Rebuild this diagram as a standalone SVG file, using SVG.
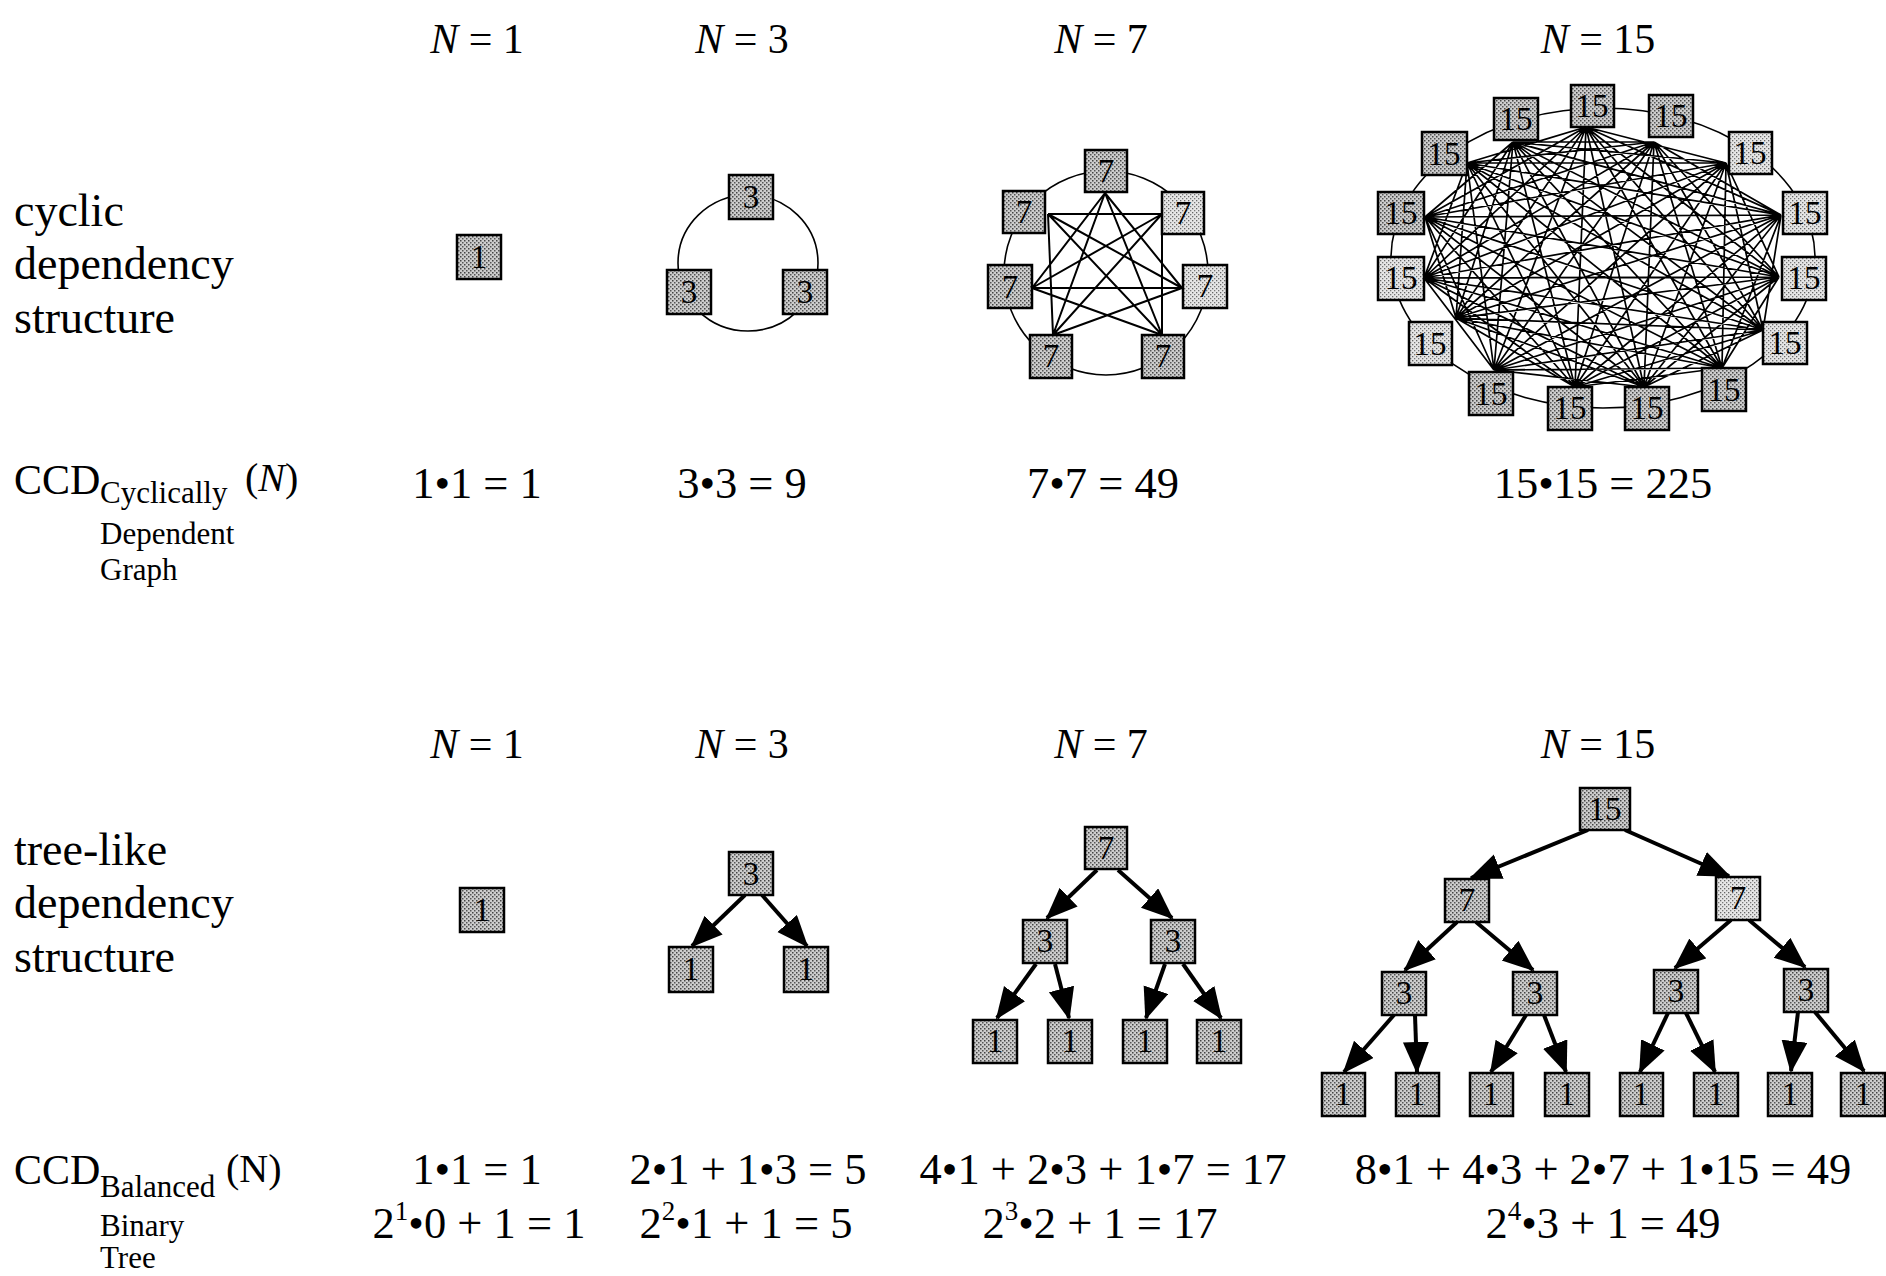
<svg xmlns="http://www.w3.org/2000/svg" width="1886" height="1276" viewBox="0 0 1886 1276">
<defs>
<pattern id="dk" width="4" height="4" patternUnits="userSpaceOnUse"><rect width="4" height="4" fill="#cdcdcd"/><rect width="1.5" height="1.5" fill="#444"/><rect x="2" y="2" width="1.5" height="1.5" fill="#555"/></pattern>
<pattern id="lt" width="4" height="4" patternUnits="userSpaceOnUse"><rect width="4" height="4" fill="#e6e6e6"/><rect width="1.3" height="1.3" fill="#666"/><rect x="2" y="2" width="1.3" height="1.3" fill="#777"/></pattern>
<marker id="ah" markerUnits="userSpaceOnUse" markerWidth="36" markerHeight="28" refX="30" refY="13" orient="auto"><path d="M0,0 L32,13 L0,26 z" fill="#000"/></marker>
<style>
text{font-family:"Liberation Serif","Times New Roman",serif;fill:#000}
.lab{font-size:46px}
.hd{font-size:42px;text-anchor:middle}
.eq{font-size:44.5px;text-anchor:middle}
.sub{font-size:31px}
.sup{font-size:27px}
.nd rect{fill:url(#dk);stroke:#000;stroke-width:2.5}
.nd.l rect{fill:url(#lt)}
.nd text{font-size:33px;text-anchor:middle}
.ring{fill:none;stroke:#000;stroke-width:1.6}
.ch7{fill:none;stroke:#000;stroke-width:2}
.ch15{fill:none;stroke:#000;stroke-width:1.7}
.arr{stroke:#000;stroke-width:4;fill:none;marker-end:url(#ah)}
</style>
</defs>
<rect width="1886" height="1276" fill="#fff"/>

<!-- headings -->
<g id="headings-top">
<text class="hd" x="477" y="53"><tspan font-style="italic">N</tspan> = 1</text>
<text class="hd" x="742" y="53"><tspan font-style="italic">N</tspan> = 3</text>
<text class="hd" x="1101" y="53"><tspan font-style="italic">N</tspan> = 7</text>
<text class="hd" x="1598" y="53"><tspan font-style="italic">N</tspan> = 15</text>
</g>
<g id="headings-bottom">
<text class="hd" x="477" y="758"><tspan font-style="italic">N</tspan> = 1</text>
<text class="hd" x="742" y="758"><tspan font-style="italic">N</tspan> = 3</text>
<text class="hd" x="1101" y="758"><tspan font-style="italic">N</tspan> = 7</text>
<text class="hd" x="1598" y="758"><tspan font-style="italic">N</tspan> = 15</text>
</g>

<g id="label-cyclic">
<text class="lab" x="14" y="226">cyclic</text>
<text class="lab" x="14" y="279">dependency</text>
<text class="lab" x="14" y="333">structure</text>
</g>
<g id="label-tree">
<text class="lab" x="14" y="865">tree-like</text>
<text class="lab" x="14" y="918">dependency</text>
<text class="lab" x="14" y="972">structure</text>
</g>

<g id="ccd-cyclic">
<text x="14" y="494" font-size="42">CCD</text>
<text class="sub" x="100" y="503">Cyclically</text>
<text x="245" y="491" font-size="40">(<tspan font-style="italic">N</tspan>)</text>
<text class="sub" x="100" y="544">Dependent</text>
<text class="sub" x="100" y="580">Graph</text>
</g>
<g id="ccd-cyclic-values">
<text class="eq" x="477" y="498">1•1 = 1</text>
<text class="eq" x="742" y="498">3•3 = 9</text>
<text class="eq" x="1103" y="498">7•7 = 49</text>
<text class="eq" x="1603" y="498">15•15 = 225</text>
</g>

<g id="ccd-balanced">
<text x="14" y="1184" font-size="42">CCD</text>
<text class="sub" x="100" y="1197">Balanced</text>
<text x="226" y="1182" font-size="40">(N)</text>
<text class="sub" x="100" y="1236">Binary</text>
<text class="sub" x="100" y="1268">Tree</text>
</g>
<g id="ccd-balanced-values">
<text class="eq" x="477" y="1184">1•1 = 1</text>
<text class="eq" x="748" y="1184">2•1 + 1•3 = 5</text>
<text class="eq" x="1103" y="1184">4•1 + 2•3 + 1•7 = 17</text>
<text class="eq" x="1603" y="1184">8•1 + 4•3 + 2•7 + 1•15 = 49</text>
<text class="eq" x="479" y="1238">2<tspan class="sup" dy="-18">1</tspan><tspan dy="18">•0 + 1 = 1</tspan></text>
<text class="eq" x="746" y="1238">2<tspan class="sup" dy="-18">2</tspan><tspan dy="18">•1 + 1 = 5</tspan></text>
<text class="eq" x="1100" y="1238">2<tspan class="sup" dy="-18">3</tspan><tspan dy="18">•2 + 1 = 17</tspan></text>
<text class="eq" x="1603" y="1238">2<tspan class="sup" dy="-18">4</tspan><tspan dy="18">•3 + 1 = 49</tspan></text>
</g>

<!-- connectors -->
<g id="connectors">
<ellipse class="ring" cx="748" cy="263" rx="70" ry="68"/>
<circle class="ring" cx="1106" cy="273" r="102"/>
<ellipse class="ring" cx="1603" cy="258" rx="212" ry="150"/>
<path class="ch7" d="M1105,193L1182,288M1105,193L1162,335M1105,193L1053,335M1105,193L1032,288
M1162,214L1162,335M1162,214L1053,335M1162,214L1032,288M1162,214L1048,214
M1182,288L1053,335M1182,288L1032,288M1182,288L1048,214
M1162,335L1032,288M1162,335L1048,214
M1053,335L1048,214"/>
<path class="ch15" d="M1586,127L1726,163M1586,127L1781,215M1586,127L1779,277M1586,127L1763,330M1586,127L1722,368M1586,127L1644,387M1586,127L1575,387M1586,127L1494,370M1586,127L1456,318M1586,127L1424,278M1586,127L1425,217M1586,127L1467,163
M1654,142L1781,215M1654,142L1779,277M1654,142L1763,330M1654,142L1722,368M1654,142L1644,387M1654,142L1575,387M1654,142L1494,370M1654,142L1456,318M1654,142L1424,278M1654,142L1425,217M1654,142L1467,163M1654,142L1513,142
M1726,163L1779,277M1726,163L1763,330M1726,163L1722,368M1726,163L1644,387M1726,163L1575,387M1726,163L1494,370M1726,163L1456,318M1726,163L1424,278M1726,163L1425,217M1726,163L1467,163M1726,163L1513,142
M1781,215L1763,330M1781,215L1722,368M1781,215L1644,387M1781,215L1575,387M1781,215L1494,370M1781,215L1456,318M1781,215L1424,278M1781,215L1425,217M1781,215L1467,163M1781,215L1513,142
M1779,277L1722,368M1779,277L1644,387M1779,277L1575,387M1779,277L1494,370M1779,277L1456,318M1779,277L1424,278M1779,277L1425,217M1779,277L1467,163M1779,277L1513,142
M1763,330L1644,387M1763,330L1575,387M1763,330L1494,370M1763,330L1456,318M1763,330L1424,278M1763,330L1425,217M1763,330L1467,163M1763,330L1513,142
M1722,368L1575,387M1722,368L1494,370M1722,368L1456,318M1722,368L1424,278M1722,368L1425,217M1722,368L1467,163M1722,368L1513,142
M1644,387L1494,370M1644,387L1456,318M1644,387L1424,278M1644,387L1425,217M1644,387L1467,163M1644,387L1513,142
M1575,387L1456,318M1575,387L1424,278M1575,387L1425,217M1575,387L1467,163M1575,387L1513,142
M1494,370L1424,278M1494,370L1425,217M1494,370L1467,163M1494,370L1513,142
M1456,318L1425,217M1456,318L1467,163M1456,318L1513,142
M1424,278L1467,163M1424,278L1513,142
M1425,217L1513,142"/>
<line class="arr" x1="745" y1="895" x2="692" y2="946"/>
<line class="arr" x1="762" y1="895" x2="807" y2="946"/>
<line class="arr" x1="1097" y1="870" x2="1047" y2="918"/>
<line class="arr" x1="1118" y1="870" x2="1172" y2="918"/>
<line class="arr" x1="1036" y1="964" x2="997" y2="1018"/>
<line class="arr" x1="1055" y1="964" x2="1069" y2="1018"/>
<line class="arr" x1="1165" y1="964" x2="1146" y2="1018"/>
<line class="arr" x1="1183" y1="964" x2="1221" y2="1018"/>
<line class="arr" x1="1588" y1="830" x2="1471" y2="878"/>
<line class="arr" x1="1625" y1="830" x2="1729" y2="876"/>
<line class="arr" x1="1457" y1="922" x2="1405" y2="970"/>
<line class="arr" x1="1476" y1="922" x2="1533" y2="970"/>
<line class="arr" x1="1731" y1="920" x2="1675" y2="968"/>
<line class="arr" x1="1749" y1="920" x2="1805" y2="967"/>
<line class="arr" x1="1394" y1="1015" x2="1344" y2="1072"/>
<line class="arr" x1="1415" y1="1015" x2="1417" y2="1072"/>
<line class="arr" x1="1526" y1="1015" x2="1491" y2="1072"/>
<line class="arr" x1="1544" y1="1015" x2="1566" y2="1072"/>
<line class="arr" x1="1668" y1="1013" x2="1640" y2="1072"/>
<line class="arr" x1="1686" y1="1013" x2="1715" y2="1072"/>
<line class="arr" x1="1798" y1="1012" x2="1791" y2="1071"/>
<line class="arr" x1="1815" y1="1012" x2="1864" y2="1071"/>
</g>

<!-- cyclic nodes -->
<g id="c1-n1" class="nd"><rect x="457" y="235" width="44" height="44"/><text x="479" y="268">1</text></g>
<g id="c3-n1" class="nd"><rect x="729" y="175" width="44" height="44"/><text x="751" y="208">3</text></g>
<g id="c3-n2" class="nd"><rect x="667" y="270" width="44" height="44"/><text x="689" y="303">3</text></g>
<g id="c3-n3" class="nd"><rect x="783" y="270" width="44" height="44"/><text x="805" y="303">3</text></g>

<g id="c7-n1" class="nd"><rect x="1085" y="150" width="42" height="42"/><text x="1106" y="182">7</text></g>
<g id="c7-n2" class="nd l"><rect x="1162" y="192" width="42" height="42"/><text x="1183" y="224">7</text></g>
<g id="c7-n3" class="nd l"><rect x="1183" y="265" width="44" height="43"/><text x="1205" y="297">7</text></g>
<g id="c7-n4" class="nd"><rect x="1142" y="335" width="42" height="43"/><text x="1163" y="367">7</text></g>
<g id="c7-n5" class="nd"><rect x="1030" y="335" width="42" height="43"/><text x="1051" y="367">7</text></g>
<g id="c7-n6" class="nd"><rect x="988" y="265" width="44" height="43"/><text x="1010" y="298">7</text></g>
<g id="c7-n7" class="nd"><rect x="1003" y="191" width="42" height="42"/><text x="1024" y="223">7</text></g>

<g id="c15-n1" class="nd"><rect x="1571" y="85" width="43" height="42"/><text x="1592" y="117">15</text></g>
<g id="c15-n2" class="nd"><rect x="1649" y="95" width="44" height="42"/><text x="1671" y="127">15</text></g>
<g id="c15-n3" class="nd l"><rect x="1729" y="132" width="43" height="42"/><text x="1750" y="164">15</text></g>
<g id="c15-n4" class="nd l"><rect x="1783" y="192" width="44" height="42"/><text x="1805" y="224">15</text></g>
<g id="c15-n5" class="nd l"><rect x="1782" y="257" width="44" height="43"/><text x="1804" y="289">15</text></g>
<g id="c15-n6" class="nd l"><rect x="1763" y="322" width="44" height="42"/><text x="1785" y="354">15</text></g>
<g id="c15-n7" class="nd"><rect x="1702" y="368" width="44" height="43"/><text x="1724" y="401">15</text></g>
<g id="c15-n8" class="nd"><rect x="1625" y="387" width="44" height="43"/><text x="1647" y="419">15</text></g>
<g id="c15-n9" class="nd"><rect x="1548" y="387" width="44" height="43"/><text x="1570" y="419">15</text></g>
<g id="c15-n10" class="nd"><rect x="1469" y="372" width="44" height="43"/><text x="1491" y="405">15</text></g>
<g id="c15-n11" class="nd l"><rect x="1409" y="322" width="43" height="43"/><text x="1430" y="355">15</text></g>
<g id="c15-n12" class="nd l"><rect x="1378" y="257" width="46" height="43"/><text x="1401" y="289">15</text></g>
<g id="c15-n13" class="nd"><rect x="1378" y="192" width="46" height="42"/><text x="1401" y="224">15</text></g>
<g id="c15-n14" class="nd"><rect x="1422" y="132" width="45" height="43"/><text x="1444" y="165">15</text></g>
<g id="c15-n15" class="nd"><rect x="1494" y="98" width="44" height="42"/><text x="1516" y="130">15</text></g>

<!-- tree nodes -->
<g id="t1-n1" class="nd"><rect x="460" y="888" width="44" height="44"/><text x="482" y="921">1</text></g>
<g id="t3-n1" class="nd"><rect x="729" y="852" width="44" height="43"/><text x="751" y="885">3</text></g>
<g id="t3-n2" class="nd"><rect x="669" y="947" width="44" height="45"/><text x="691" y="980">1</text></g>
<g id="t3-n3" class="nd"><rect x="784" y="947" width="44" height="45"/><text x="806" y="980">1</text></g>

<g id="t7-n1" class="nd"><rect x="1085" y="827" width="42" height="42"/><text x="1106" y="859">7</text></g>
<g id="t7-n2" class="nd"><rect x="1023" y="920" width="44" height="43"/><text x="1045" y="952">3</text></g>
<g id="t7-n3" class="nd"><rect x="1151" y="920" width="44" height="43"/><text x="1173" y="952">3</text></g>
<g id="t7-n4" class="nd"><rect x="973" y="1020" width="44" height="43"/><text x="995" y="1052">1</text></g>
<g id="t7-n5" class="nd"><rect x="1048" y="1020" width="44" height="43"/><text x="1070" y="1052">1</text></g>
<g id="t7-n6" class="nd"><rect x="1123" y="1020" width="44" height="43"/><text x="1145" y="1052">1</text></g>
<g id="t7-n7" class="nd"><rect x="1197" y="1020" width="44" height="43"/><text x="1219" y="1052">1</text></g>

<g id="t15-n1" class="nd"><rect x="1580" y="788" width="50" height="42"/><text x="1605" y="820">15</text></g>
<g id="t15-n2" class="nd"><rect x="1445" y="879" width="44" height="43"/><text x="1467" y="911">7</text></g>
<g id="t15-n3" class="nd l"><rect x="1716" y="877" width="44" height="43"/><text x="1738" y="909">7</text></g>
<g id="t15-n4" class="nd"><rect x="1382" y="972" width="44" height="43"/><text x="1404" y="1004">3</text></g>
<g id="t15-n5" class="nd"><rect x="1513" y="972" width="44" height="43"/><text x="1535" y="1004">3</text></g>
<g id="t15-n6" class="nd"><rect x="1654" y="970" width="44" height="43"/><text x="1676" y="1002">3</text></g>
<g id="t15-n7" class="nd"><rect x="1784" y="969" width="44" height="43"/><text x="1806" y="1001">3</text></g>
<g id="t15-n8" class="nd"><rect x="1322" y="1073" width="43" height="43"/><text x="1343" y="1105">1</text></g>
<g id="t15-n9" class="nd"><rect x="1396" y="1073" width="43" height="43"/><text x="1417" y="1105">1</text></g>
<g id="t15-n10" class="nd"><rect x="1470" y="1073" width="43" height="43"/><text x="1491" y="1105">1</text></g>
<g id="t15-n11" class="nd"><rect x="1545" y="1073" width="44" height="43"/><text x="1567" y="1105">1</text></g>
<g id="t15-n12" class="nd"><rect x="1620" y="1073" width="43" height="43"/><text x="1641" y="1105">1</text></g>
<g id="t15-n13" class="nd"><rect x="1694" y="1073" width="44" height="43"/><text x="1716" y="1105">1</text></g>
<g id="t15-n14" class="nd"><rect x="1768" y="1073" width="44" height="43"/><text x="1790" y="1105">1</text></g>
<g id="t15-n15" class="nd"><rect x="1841" y="1073" width="44" height="43"/><text x="1863" y="1105">1</text></g>
</svg>
